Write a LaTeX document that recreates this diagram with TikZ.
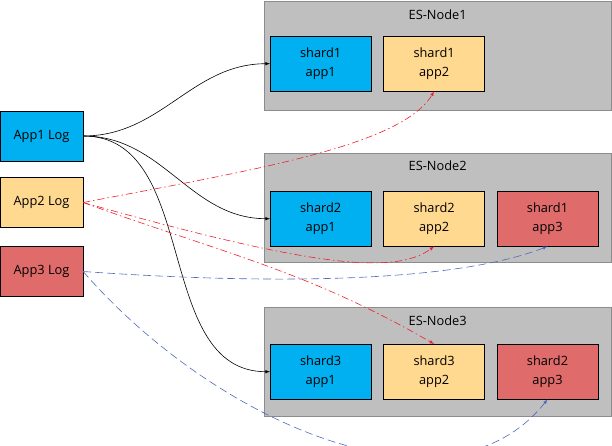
\documentclass[tikz,border=0pt]{standalone}
\usepackage{fontspec}
\setmainfont{Open Sans}
\usepackage{tikz}
\usetikzlibrary{arrows,positioning}
\usepackage{xcolor}
\definecolor{appblue}{HTML}{00B0F0}
\definecolor{appyellow}{HTML}{FFD98F}
\definecolor{appred}{HTML}{E06B6B}
\definecolor{esgrey}{HTML}{BFBFBF}
\definecolor{esborder}{HTML}{8C8C8C}
\definecolor{linkred}{HTML}{F0202A}
\definecolor{linkblue}{HTML}{5068BC}

\begin{document}
\begin{tikzpicture}[
    >=latex,
    x=1pt, y=1pt,
    font=\fontsize{12.8}{19.5}\selectfont,
    logbox/.style={draw, minimum width=83pt, minimum height=50pt, inner sep=0pt},
    esnode/.style={draw=esborder, fill=esgrey, minimum width=347pt, minimum height=109pt, anchor=north west, inner sep=0pt},
    shard/.style={draw, minimum width=101pt, minimum height=55pt, align=center, inner sep=0pt, anchor=north west},
    feed1/.style={->, line width=0.6pt},
    feed2/.style={->, line width=0.6pt, linkred, dash pattern=on 7pt off 3pt on 1.5pt off 3pt},
    feed3/.style={->, line width=0.6pt, linkblue, dash pattern=on 8pt off 4pt}
]
    \useasboundingbox (0,0) rectangle (612,445);

    % Log sources
    \node[logbox, fill=appblue]   (app1) at (41.5,309)   {App1 Log};
    \node[logbox, fill=appyellow] (app2) at (41.5,242.5) {App2 Log};
    \node[logbox, fill=appred]    (app3) at (41.5,173.5) {App3 Log};

    % ES nodes
    \node[esnode] (es1) at (264,444) {};
    \node[esnode] (es2) at (264,292) {};
    \node[esnode] (es3) at (264,138) {};
    \node[below=5pt] (title1) at (es1.north) {ES-Node1};
    \node[below=4pt] (title2) at (es2.north) {ES-Node2};
    \node[below=5pt] (title3) at (es3.north) {ES-Node3};

    % Shards on ES-Node1
    \node[shard, fill=appblue] (s11) at ([shift={(6,-35)}]es1.north west) {shard1\\app1};
    \node[shard, fill=appyellow, right=12pt of s11] (s12) {shard1\\app2};

    % Shards on ES-Node2
    \node[shard, fill=appblue] (s21) at ([shift={(6,-38)}]es2.north west) {shard2\\app1};
    \node[shard, fill=appyellow, right=12pt of s21] (s22) {shard2\\app2};
    \node[shard, fill=appred, right=12pt of s22] (s23) {shard1\\app3};

    % Shards on ES-Node3
    \node[shard, fill=appblue] (s31) at ([shift={(6,-37)}]es3.north west) {shard3\\app1};
    \node[shard, fill=appyellow, right=12pt of s31] (s32) {shard3\\app2};
    \node[shard, fill=appred, right=12pt of s32] (s33) {shard2\\app3};

    % App1 log
    \draw[feed1] (app1.east) to[out=0,in=180] (s11.west);
    \draw[feed1] (app1.east) to[out=0,in=180] (s21.west);
    \draw[feed1] (app1.east) to[out=0,in=180] (s31.west);

    % App2 log
    \draw[feed2] (app2.east) .. controls +(167,32) and +(-33,-55) .. (s12.south);
    \draw[feed2] (app2.east) .. controls +(220,-62) and +(-40,-30) .. (s22.south);
    \draw[feed2] (app2.east) to[out=-20,in=150] (s32.north);

    % App3 log
    \draw[feed3] (app3.east) .. controls +(200,-14) and +(-90,-35) .. (s23.south);
    \draw[feed3] (app3.east) .. controls +(130,-150) and +(-100,-126) .. (s33.south);
\end{tikzpicture}
\end{document}
